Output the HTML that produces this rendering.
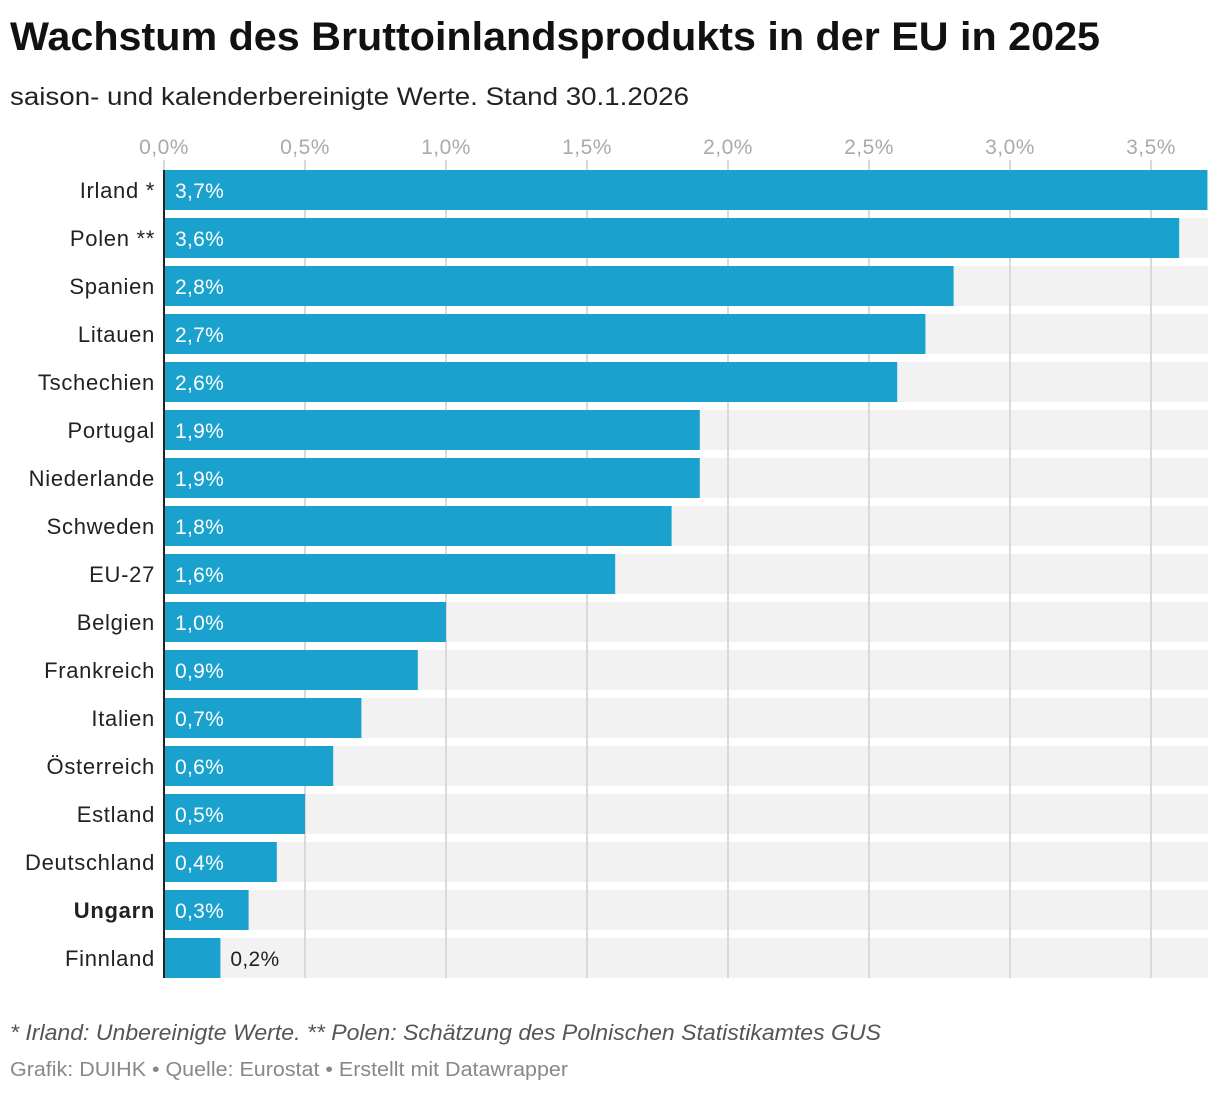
<!DOCTYPE html>
<html><head><meta charset="utf-8"><style>
body{margin:0;width:1220px;height:1092px;background:#fff;font-family:"Liberation Sans",sans-serif;overflow:hidden}
</style></head><body>
<svg id="c" width="1220" height="1092" xmlns="http://www.w3.org/2000/svg">
<text x="10" y="50" font-size="40" font-weight="bold" fill="#111" textLength="1090" lengthAdjust="spacingAndGlyphs">Wachstum des Bruttoinlandsprodukts in der EU in 2025</text>
<text x="10" y="105" font-size="25" fill="#222" textLength="679" lengthAdjust="spacingAndGlyphs">saison- und kalenderbereinigte Werte. Stand 30.1.2026</text>
<g id="grid"></g><g id="bars"></g>
<text x="10" y="1040" font-size="22" font-style="italic" fill="#555" textLength="871" lengthAdjust="spacingAndGlyphs">* Irland: Unbereinigte Werte. ** Polen: Schätzung des Polnischen Statistikamtes GUS</text>
<text x="10" y="1076" font-size="20" fill="#888" textLength="558" lengthAdjust="spacingAndGlyphs">Grafik: DUIHK • Quelle: Eurostat • Erstellt mit Datawrapper</text>
</svg>
<script>
const categories=["Irland *","Polen **","Spanien","Litauen","Tschechien","Portugal","Niederlande","Schweden","EU-27","Belgien","Frankreich","Italien","Österreich","Estland","Deutschland","Ungarn","Finnland"];
const values=[3.7,3.6,2.8,2.7,2.6,1.9,1.9,1.8,1.6,1.0,0.9,0.7,0.6,0.5,0.4,0.3,0.2];
const ticks=[0,0.5,1,1.5,2,2.5,3,3.5];
const NS="http://www.w3.org/2000/svg";
const x0=164,pxPer=282,right=1208,top0=170,step=48,bh=40;
const xs=v=>x0+v*pxPer;
const ys=i=>top0+i*step;
const fmt=v=>v.toFixed(1).replace('.',',')+'%';
const grid=document.getElementById('grid'),bars=document.getElementById('bars');
function mk(t,a,p){const e=document.createElementNS(NS,t);for(const k in a)e.setAttribute(k,a[k]);p.appendChild(e);return e;}
categories.forEach((c,i)=>{
  const bg=mk('rect',{x:x0,y:ys(i),width:right-x0,height:bh,fill:'#f2f2f2'},grid);
  
  
});
ticks.forEach(t=>{
  const l=mk('line',{x1:xs(t),x2:xs(t),y1:160,y2:978,stroke:'#d9d9d9','stroke-width':2},grid);
  
  
  const tx=mk('text',{x:xs(t),y:154,'font-size':21,fill:'#aaa','text-anchor':'middle','letter-spacing':'0.5'},grid);
  tx.textContent=fmt(t);
  
  
});
categories.forEach((c,i)=>{
  const v=values[i],y=ys(i);
  const r=mk('rect',{x:x0,y:y,width:xs(v)-x0,height:bh,fill:'#1aa1ce'},bars);
  
  
  const lab=mk('text',{x:155,y:y+28,'font-size':22,fill:'#222','text-anchor':'end','letter-spacing':'0.7'},bars);
  if(c==='Ungarn')lab.setAttribute('font-weight','bold');
  lab.textContent=c;
  
  
  const inside=(xs(v)-x0)>70;
  const vl=mk('text',{x:inside?x0+11:xs(v)+10,y:y+28,'font-size':21,fill:inside?'#fff':'#222','letter-spacing':'0.3'},bars);
  vl.textContent=fmt(v);
  
  
});
const ax=mk('line',{x1:x0,x2:x0,y1:170,y2:978,stroke:'#222','stroke-width':2},bars);


</script>
</body></html>
